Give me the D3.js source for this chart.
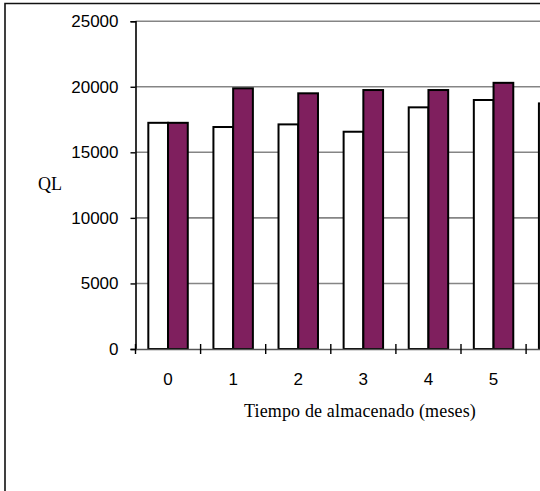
<!DOCTYPE html>
<html>
<head>
<meta charset="utf-8">
<script src="https://cdn.jsdelivr.net/npm/d3@7"></script>
<style>
  body { margin: 0; background: #fff; }
  svg { display: block; }
</style>
</head>
<body>
<svg width="540" height="491"></svg>
<script>
// months of storage (the 7th group runs off the right edge)
var meses = ["0", "1", "2", "3", "4", "5", "6"];
var serieBlanca = [17250, 16930, 17130, 16570, 18430, 18990, 18730];
var serieMorada = [17250, 19880, 19500, 19750, 19750, 20300, 20000];
var yTicks = [0, 5000, 10000, 15000, 20000, 25000];

function dibujar()
{
    var svg = d3.select("svg");

    var plotLeft = 135.5, plotTop = 21.2, plotBottom = 349, step = 65.1;

    // outer frame, cut off at right and bottom
    svg.append("path")
        .attr("d", "M5,505 L5,3.5 L560,3.5")
        .attr("fill", "none")
        .attr("stroke", "#111")
        .attr("stroke-width", 1.6);

    var x = d3.scaleBand()
        .domain(meses)
        .range([plotLeft, plotLeft + step * meses.length]);

    var xSub = d3.scaleBand()
        .domain(["blanca", "morada"])
        .range([0, x.bandwidth()])
        .paddingOuter(0.65);

    var y = d3.scaleLinear()
        .domain([0, 25000])
        .range([plotBottom, plotTop]);

    // gridlines
    svg.append("g")
        .selectAll("line")
        .data(yTicks.slice(1))
        .enter().append("line")
        .attr("x1", plotLeft)
        .attr("x2", 600)
        .attr("y1", function (d) { return y(d); })
        .attr("y2", function (d) { return y(d); })
        .attr("stroke", "#858585")
        .attr("stroke-width", 1.6);

    // bars
    var grupos = svg.selectAll(".grupo")
        .data(meses)
        .enter().append("g")
        .attr("class", "grupo")
        .attr("transform", function (d) { return "translate(" + x(d) + ",0)"; });

    grupos.append("rect")
        .attr("x", xSub("blanca"))
        .attr("y", function (d, i) { return y(serieBlanca[i]); })
        .attr("width", xSub.bandwidth())
        .attr("height", function (d, i) { return y(0) - y(serieBlanca[i]); })
        .attr("fill", "#fff")
        .attr("stroke", "#000")
        .attr("stroke-width", 2);

    grupos.append("rect")
        .attr("x", xSub("morada"))
        .attr("y", function (d, i) { return y(serieMorada[i]); })
        .attr("width", xSub.bandwidth())
        .attr("height", function (d, i) { return y(0) - y(serieMorada[i]); })
        .attr("fill", "#7f1f5e")
        .attr("stroke", "#000")
        .attr("stroke-width", 2);

    // y axis
    var yAxis = d3.axisLeft(y)
        .tickValues(yTicks)
        .tickSize(5)
        .tickPadding(12)
        .tickFormat(d3.format("d"));

    var gy = svg.append("g")
        .attr("transform", "translate(" + plotLeft + ",0)")
        .call(yAxis);
    gy.select(".domain").attr("stroke", "#000").attr("stroke-width", 1.6);
    gy.selectAll(".tick line").attr("stroke", "#000").attr("stroke-width", 1.4);
    gy.selectAll("text")
        .attr("font-family", "'Liberation Sans', Arial, sans-serif")
        .attr("font-size", "17px")
        .attr("fill", "#000");

    // x axis: labels centred, tick marks crossing the line at group edges
    var xAxis = d3.axisBottom(x).tickSize(0).tickPadding(24);
    var gx = svg.append("g")
        .attr("transform", "translate(0," + plotBottom + ")")
        .call(xAxis);
    gx.select(".domain").attr("stroke", "#555").attr("stroke-width", 1.6);
    gx.selectAll("text")
        .attr("font-family", "'Liberation Sans', Arial, sans-serif")
        .attr("font-size", "17px")
        .attr("fill", "#000");

    var bordes = meses.map(function (d) { return x(d); });
    gx.selectAll(".borde")
        .data(bordes)
        .enter().append("line")
        .attr("class", "borde")
        .attr("x1", function (d) { return d; })
        .attr("x2", function (d) { return d; })
        .attr("y1", -5)
        .attr("y2", 5)
        .attr("stroke", "#000")
        .attr("stroke-width", 1.4);

    // axis titles
    svg.append("text")
        .attr("x", 50)
        .attr("y", 190)
        .attr("text-anchor", "middle")
        .attr("font-family", "'Liberation Serif', 'Times New Roman', serif")
        .attr("font-size", "18px")
        .text("QL");

    svg.append("text")
        .attr("x", 360)
        .attr("y", 417)
        .attr("text-anchor", "middle")
        .attr("font-family", "'Liberation Serif', 'Times New Roman', serif")
        .attr("font-size", "18px")
        .attr("letter-spacing", "0.15px")
        .text("Tiempo de almacenado (meses)");
}

dibujar();
</script>
</body>
</html>
